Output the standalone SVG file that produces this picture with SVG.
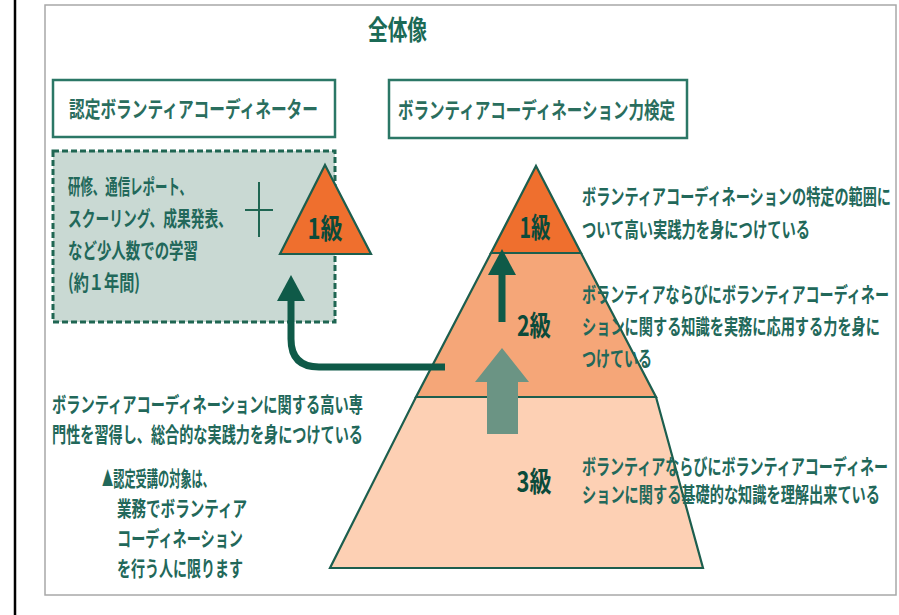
<svg xmlns="http://www.w3.org/2000/svg" width="899" height="615" viewBox="0 0 899 615">
<style>
  text { font-family: "Noto Sans CJK JP", "Noto Sans", sans-serif; }
  .t { font-size: 21px; fill: #22685a; font-weight: bold; dominant-baseline: central; }
  .hd { font-size: 22px; fill: #2a6e5e; font-weight: bold; dominant-baseline: central; }
  .lv { font-size: 28px; fill: #0b4a3a; font-weight: bold; dominant-baseline: central; text-anchor: middle; }
  .box { fill: #ffffff; stroke: #2b7766; stroke-width: 2.5; }
  .edge { stroke: #1c5e4e; stroke-width: 2.2; stroke-linejoin: miter; }
</style>
<defs>
  <marker id="ah" markerUnits="userSpaceOnUse" markerWidth="26" markerHeight="28" viewBox="0 0 26 28" refX="2" refY="14" orient="auto">
    <path d="M0,0 L26,14 L0,28 z" fill="#0f5a48"/>
  </marker>
</defs>
<rect x="0" y="0" width="899" height="615" fill="#ffffff"/>
<line x1="15" y1="0" x2="15" y2="615" stroke="#000000" stroke-width="2.5"/>
<rect x="45" y="5" width="851" height="590" fill="#ffffff" stroke="#a8a8a8" stroke-width="1.5"/>

<g id="title">
  <text x="368" y="28" style="font-size:27px;font-weight:bold;fill:#1b6a56;dominant-baseline:central" textLength="59" lengthAdjust="spacingAndGlyphs">全体像</text>
</g>

<g id="header-left">
  <rect class="box" x="53" y="80" width="282" height="57"/>
  <text class="hd" x="69" y="107" textLength="249" lengthAdjust="spacingAndGlyphs">認定ボランティアコーディネーター</text>
</g>

<g id="header-right">
  <rect class="box" x="389" y="80" width="298" height="58"/>
  <text class="hd" x="398" y="108" textLength="277" lengthAdjust="spacingAndGlyphs">ボランティアコーディネーション力検定</text>
</g>

<g id="training-box">
  <rect x="53" y="151" width="282" height="171" fill="#c9d9d3" stroke="#1f6652" stroke-width="3" stroke-dasharray="6 3"/>
  <text class="t" x="68" y="185" textLength="124" lengthAdjust="spacingAndGlyphs">研修、通信レポート、</text>
  <text class="t" x="68" y="217" textLength="164" lengthAdjust="spacingAndGlyphs">スクーリング、成果発表、</text>
  <text class="t" x="68" y="249" textLength="130" lengthAdjust="spacingAndGlyphs">など少人数での学習</text>
  <text class="t" x="68" y="281" textLength="72" lengthAdjust="spacingAndGlyphs">(約１年間)</text>
  <path d="M245,210 H273 M259,182 V237" stroke="#1f6652" stroke-width="2" fill="none"/>
</g>

<g id="small-triangle">
  <polygon class="edge" points="325,165 371,254 280,254" fill="#ef6f2e"/>
  <text class="lv" x="325" y="227" textLength="35" lengthAdjust="spacingAndGlyphs">1級</text>
</g>

<g id="tier3">
  <polygon class="edge" points="416,397 656,397 703,568 330,568" fill="#fdd0b4"/>
  <text class="lv" x="534" y="480" textLength="35" lengthAdjust="spacingAndGlyphs">3級</text>
</g>
<g id="tier2">
  <polygon class="edge" points="491,253 581,253 656,397 416,397" fill="#f5a678"/>
  <text class="lv" x="534" y="324" textLength="34" lengthAdjust="spacingAndGlyphs">2級</text>
</g>
<g id="tier1">
  <polygon class="edge" points="536,166 581,253 491,253" fill="#ef6f2e"/>
  <text class="lv" x="535" y="226" textLength="31" lengthAdjust="spacingAndGlyphs">1級</text>
</g>

<g id="connectors">
  <polygon points="502,348 529,382 518,382 518,434 487,434 487,382 475,382" fill="#6b9484"/>
  <path d="M502,322 V273" stroke="#0f5a48" stroke-width="7" fill="none" marker-end="url(#ah)"/>
  <path d="M445,367 H319 Q291,367 291,339 V299" stroke="#0f5a48" stroke-width="7" fill="none" marker-end="url(#ah)"/>
</g>

<g id="desc-1">
  <text class="t" x="582" y="195" textLength="309" lengthAdjust="spacingAndGlyphs">ボランティアコーディネーションの特定の範囲に</text>
  <text class="t" x="582" y="228" textLength="228" lengthAdjust="spacingAndGlyphs">ついて高い実践力を身につけている</text>
</g>
<g id="desc-2">
  <text class="t" x="582" y="293" textLength="307" lengthAdjust="spacingAndGlyphs">ボランティアならびにボランティアコーディネー</text>
  <text class="t" x="582" y="325" textLength="298" lengthAdjust="spacingAndGlyphs">ションに関する知識を実務に応用する力を身に</text>
  <text class="t" x="582" y="357" textLength="70" lengthAdjust="spacingAndGlyphs">つけている</text>
</g>
<g id="desc-3">
  <text class="t" x="582" y="465" textLength="306" lengthAdjust="spacingAndGlyphs">ボランティアならびにボランティアコーディネー</text>
  <text class="t" x="582" y="493" textLength="298" lengthAdjust="spacingAndGlyphs">ションに関する基礎的な知識を理解出来ている</text>
</g>

<g id="desc-left">
  <text class="t" x="52" y="403" textLength="311" lengthAdjust="spacingAndGlyphs">ボランティアコーディネーションに関する高い専</text>
  <text class="t" x="52" y="433" textLength="311" lengthAdjust="spacingAndGlyphs">門性を習得し、総合的な実践力を身につけている</text>
  <text class="t" x="102" y="477" textLength="112" lengthAdjust="spacingAndGlyphs">▲認定受講の対象は、</text>
  <text class="t" x="117" y="507" textLength="130" lengthAdjust="spacingAndGlyphs">業務でボランティア</text>
  <text class="t" x="117" y="537" textLength="126" lengthAdjust="spacingAndGlyphs">コーディネーション</text>
  <text class="t" x="117" y="567" textLength="126" lengthAdjust="spacingAndGlyphs">を行う人に限ります</text>
</g>
</svg>
